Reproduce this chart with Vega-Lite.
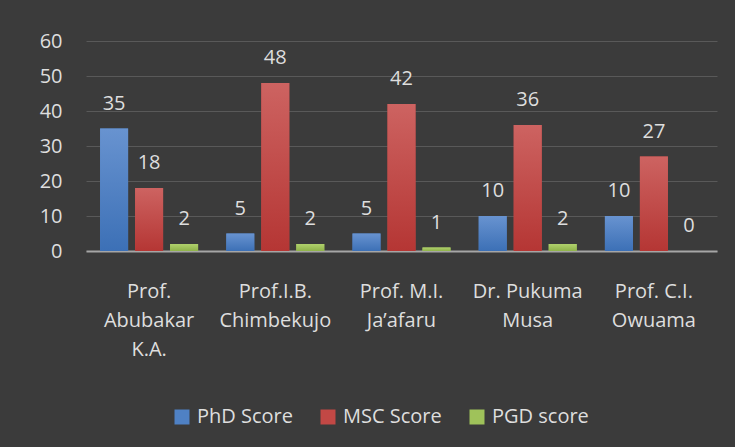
{
  "$schema": "https://vega.github.io/schema/vega-lite/v6.json",
  "width": 631,
  "height": 210,
  "autosize": {"type": "none"},
  "padding": {"left": 86, "top": 41, "right": 18, "bottom": 196},
  "background": "#3b3b3b",
  "config": {
    "font": "Open Sans",
    "view": {"stroke": null}
  },
  "data": {
    "values": [
      {"name": "Prof.\nAbubakar\nK.A.", "series": "PhD Score", "value": 35},
      {"name": "Prof.\nAbubakar\nK.A.", "series": "MSC Score", "value": 18},
      {"name": "Prof.\nAbubakar\nK.A.", "series": "PGD score", "value": 2},
      {"name": "Prof.I.B.\nChimbekujo", "series": "PhD Score", "value": 5},
      {"name": "Prof.I.B.\nChimbekujo", "series": "MSC Score", "value": 48},
      {"name": "Prof.I.B.\nChimbekujo", "series": "PGD score", "value": 2},
      {"name": "Prof. M.I.\nJa’afaru", "series": "PhD Score", "value": 5},
      {"name": "Prof. M.I.\nJa’afaru", "series": "MSC Score", "value": 42},
      {"name": "Prof. M.I.\nJa’afaru", "series": "PGD score", "value": 1},
      {"name": "Dr. Pukuma\nMusa", "series": "PhD Score", "value": 10},
      {"name": "Dr. Pukuma\nMusa", "series": "MSC Score", "value": 36},
      {"name": "Dr. Pukuma\nMusa", "series": "PGD score", "value": 2},
      {"name": "Prof. C.I.\nOwuama", "series": "PhD Score", "value": 10},
      {"name": "Prof. C.I.\nOwuama", "series": "MSC Score", "value": 27},
      {"name": "Prof. C.I.\nOwuama", "series": "PGD score", "value": 0}
    ]
  },
  "encoding": {
    "x": {
      "field": "name",
      "type": "nominal",
      "sort": null,
      "title": null,
      "scale": {"paddingInner": 0, "paddingOuter": 0},
      "axis": {
        "labelExpr": "split(datum.label, '\\n')",
        "labelAngle": 0,
        "labelFontSize": 20,
        "labelColor": "#dedede",
        "labelLineHeight": 29,
        "labelPadding": 30,
        "labelBaseline": "top",
        "ticks": false,
        "domain": true,
        "domainColor": "#a6a6a6",
        "domainWidth": 2,
        "grid": false
      }
    },
    "xOffset": {
      "field": "series",
      "type": "nominal",
      "sort": ["PhD Score", "MSC Score", "PGD score"],
      "scale": {"paddingInner": 0.2, "paddingOuter": 0.403}
    },
    "y": {
      "field": "value",
      "type": "quantitative",
      "title": null,
      "scale": {"domain": [0, 60], "nice": false},
      "axis": {
        "values": [0, 10, 20, 30, 40, 50, 60],
        "labelFontSize": 20,
        "labelColor": "#dedede",
        "labelPadding": 24,
        "ticks": false,
        "domain": false,
        "grid": true,
        "gridColor": "#595959",
        "gridWidth": 1.2
      }
    }
  },
  "layer": [
    {
      "mark": {"type": "bar"},
      "encoding": {
        "color": {
          "field": "series",
          "type": "nominal",
          "sort": ["PhD Score", "MSC Score", "PGD score"],
          "scale": {
            "domain": ["PhD Score", "MSC Score", "PGD score"],
            "range": ["#4f81c4", "#c24845", "#9fc25a"]
          },
          "legend": {
            "orient": "none",
            "legendX": 86,
            "legendY": 366,
            "direction": "horizontal",
            "title": null,
            "symbolType": "square",
            "symbolSize": 225,
            "symbolStrokeWidth": 0,
            "labelFontSize": 20,
            "labelColor": "#dedede",
            "labelOffset": 5,
            "columnPadding": 25
          }
        }
      }
    },
    {
      "transform": [{"filter": "datum.series === 'PhD Score'"}],
      "mark": {"type": "bar", "color": {"gradient": "linear", "x1": 0, "y1": 0, "x2": 0, "y2": 1, "stops": [{"offset": 0, "color": "#6893d0"}, {"offset": 1, "color": "#3c70b6"}]}}
    },
    {
      "transform": [{"filter": "datum.series === 'MSC Score'"}],
      "mark": {"type": "bar", "color": {"gradient": "linear", "x1": 0, "y1": 0, "x2": 0, "y2": 1, "stops": [{"offset": 0, "color": "#cd6361"}, {"offset": 1, "color": "#b53634"}]}}
    },
    {
      "transform": [{"filter": "datum.series === 'PGD score'"}],
      "mark": {"type": "bar", "color": {"gradient": "linear", "x1": 0, "y1": 0, "x2": 0, "y2": 1, "stops": [{"offset": 0, "color": "#b0d16c"}, {"offset": 1, "color": "#8fb24a"}]}}
    },
    {
      "mark": {"type": "text", "baseline": "middle", "dy": -25, "fontSize": 20, "color": "#dedede"},
      "encoding": {
        "text": {"field": "value", "type": "quantitative"}
      }
    }
  ]
}
